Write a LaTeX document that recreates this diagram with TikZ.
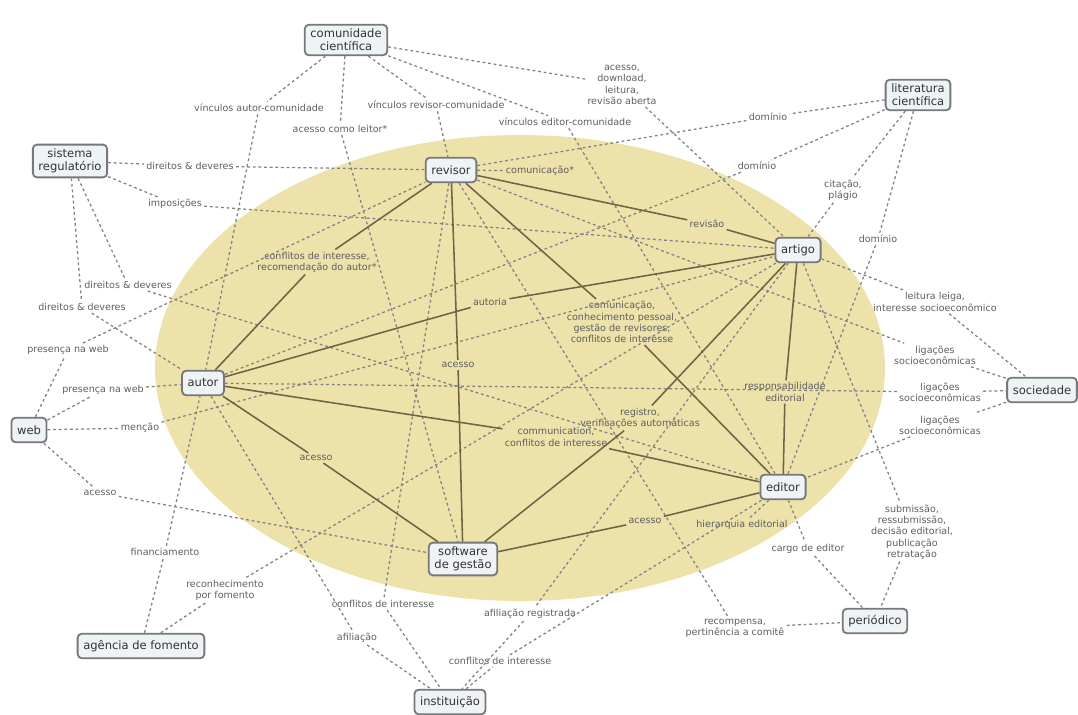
\documentclass[tikz,border=0pt]{standalone}
\usepackage{fontspec}
\setmainfont{DejaVu Sans}
\definecolor{oval}{RGB}{237,226,170}
\definecolor{boxfill}{RGB}{238,243,246}
\definecolor{boxline}{RGB}{118,120,122}
\definecolor{phrasegray}{RGB}{95,95,95}
\definecolor{tiecolor}{RGB}{110,100,70}
\definecolor{linkgray}{RGB}{130,130,130}
\begin{document}
\begin{tikzpicture}[x=0.025cm,y=-0.025cm,
    concept/.style={draw=boxline,line width=1.3pt,rounded corners=3pt,fill=boxfill,
      align=center,font=\fontsize{8.2}{9.4}\selectfont,text=black!80,
      inner xsep=4pt,inner ysep=3pt,minimum height=17.5pt},
    phrase/.style={align=center,font=\fontsize{6.8}{8}\selectfont,text=phrasegray,inner sep=1.5pt},
    rel/.style={draw=linkgray,line width=0.9pt,dash pattern=on 2pt off 2pt},
    core/.style={draw=tiecolor,line width=1.1pt}]
  \useasboundingbox (0,0) rectangle (1078,715);
  \fill[oval] (520,368) ellipse [x radius=365, y radius=233];

  \node[concept] (comunidade) at (346,40) {comunidade\\científica};
  \node[concept] (literatura) at (918,95) {literatura\\científica};
  \node[concept] (sistema) at (70,161) {sistema\\regulatório};
  \node[concept] (revisor) at (451,170) {revisor};
  \node[concept] (artigo) at (798,250) {artigo};
  \node[concept] (autor) at (203,383) {autor};
  \node[concept] (sociedade) at (1042,390) {sociedade};
  \node[concept] (web) at (29,430) {web};
  \node[concept] (editor) at (783,487) {editor};
  \node[concept] (software) at (463,559) {software\\de gestão};
  \node[concept] (periodico) at (875,621) {periódico};
  \node[concept] (agencia) at (141,646) {agência de fomento};
  \node[concept] (instituicao) at (450,702) {instituição};

  \node[phrase] (vinAutor) at (259,108) {vínculos autor-comunidade};
  \node[phrase] (leitor) at (340,129) {acesso como leitor*};
  \node[phrase] (vinRevisor) at (436,105) {vínculos revisor-comunidade};
  \node[phrase] (vinEditor) at (565,122) {vínculos editor-comunidade};
  \node[phrase] (download) at (622,85) {acesso,\\download,\\leitura,\\revisão aberta};
  \node[phrase] (dom1) at (768,117) {domínio};
  \node[phrase] (dom2) at (757,166) {domínio};
  \node[phrase] (citacao) at (843,190) {citação,\\plágio};
  \node[phrase] (dom3) at (878,239) {domínio};
  \node[phrase] (dir1) at (190,166) {direitos \& deveres};
  \node[phrase] (impos) at (175,204) {imposições};
  \node[phrase] (dir2) at (128,285) {direitos \& deveres};
  \node[phrase] (dir3) at (82,307) {direitos \& deveres};
  \node[phrase] (comStar) at (540,171) {comunicação*};
  \node[phrase] (revisao) at (707,224) {revisão};
  \node[phrase] (recom) at (317,262) {conflitos de interesse,\\recomendação do autor*};
  \node[phrase] (autoria) at (490,302) {autoria};
  \node[phrase] (comRev) at (622,322) {comunicação,\\conhecimento pessoal,\\gestão de revisores,\\conflitos de interesse};
  \node[phrase] (pres1) at (68,350) {presença na web};
  \node[phrase] (pres2) at (103,390) {presença na web};
  \node[phrase] (mencao) at (140,428) {menção};
  \node[phrase] (acRev) at (458,365) {acesso};
  \node[phrase] (resp) at (785,392) {responsabilidade\\editorial};
  \node[phrase] (leiga) at (935,302) {leitura leiga,\\interesse socioeconômico};
  \node[phrase] (lig1) at (935,355) {ligações\\socioeconômicas};
  \node[phrase] (lig2) at (940,392) {ligações\\socioeconômicas};
  \node[phrase] (lig3) at (940,425) {ligações\\socioeconômicas};
  \node[phrase] (registro) at (640,418) {registro,\\verificações automáticas};
  \node[phrase] (comAut) at (556,437) {communication,\\conflitos de interesse};
  \node[phrase] (acAut) at (316,458) {acesso};
  \node[phrase] (acWeb) at (100,493) {acesso};
  \node[phrase] (submissao) at (912,532) {submissão,\\ressubmissão,\\decisão editorial,\\publicação\\retratação};
  \node[phrase] (acEd) at (645,521) {acesso};
  \node[phrase] (hier) at (742,525) {hierarquia editorial};
  \node[phrase] (cargo) at (808,549) {cargo de editor};
  \node[phrase] (financ) at (165,552) {financiamento};
  \node[phrase] (reconh) at (225,590) {reconhecimento\\por fomento};
  \node[phrase] (recompensa) at (735,628) {recompensa,\\pertinência a comitê};
  \node[phrase] (conf1) at (383,604) {conflitos de interesse};
  \node[phrase] (afil) at (357,638) {afiliação};
  \node[phrase] (afilReg) at (530,614) {afiliação registrada};
  \node[phrase] (conf2) at (500,661) {conflitos de interesse};

  \draw[rel] (comunidade) -- (vinAutor) -- (autor);
  \draw[rel] (comunidade) -- (leitor) -- (software);
  \draw[rel] (comunidade) -- (vinRevisor) -- (revisor);
  \draw[rel] (comunidade) -- (vinEditor) -- (editor);
  \draw[rel] (comunidade) -- (download) -- (artigo);
  \draw[rel] (literatura) -- (dom1) -- (revisor);
  \draw[rel] (literatura) -- (dom2) -- (autor);
  \draw[rel] (literatura) -- (citacao) -- (artigo);
  \draw[rel] (literatura) -- (dom3) -- (editor);
  \draw[rel] (sistema) -- (dir1) -- (revisor);
  \draw[rel] (sistema) -- (impos) -- (artigo);
  \draw[rel] (sistema) -- (dir2) -- (editor);
  \draw[rel] (sistema) -- (dir3) -- (autor);
  \draw[rel] (web) -- (pres1) -- (revisor);
  \draw[rel] (web) -- (pres2) -- (autor);
  \draw[rel] (web) -- (mencao) -- (artigo);
  \draw[rel] (web) -- (acWeb) -- (software);
  \draw[rel] (revisor) -- (comStar);
  \draw[rel] (revisor) -- (conf1) -- (instituicao);
  \draw[rel] (revisor) -- (lig1) -- (sociedade);
  \draw[rel] (revisor) -- (recompensa) -- (periodico);
  \draw[rel] (autor) -- (lig2) -- (sociedade);
  \draw[rel] (autor) -- (afil) -- (instituicao);
  \draw[rel] (agencia) -- (financ) -- (autor);
  \draw[rel] (agencia) -- (reconh) -- (artigo);
  \draw[rel] (artigo) -- (leiga) -- (sociedade);
  \draw[rel] (artigo) -- (submissao) -- (periodico);
  \draw[rel] (artigo) -- (afilReg) -- (instituicao);
  \draw[rel] (instituicao) -- (conf2) -- (editor);
  \draw[rel] (editor) -- (cargo) -- (periodico);
  \draw[rel] (editor) -- (hier);
  \draw[rel] (sociedade) -- (lig3) -- (editor);

  \draw[core] (revisor) -- (revisao) -- (artigo);
  \draw[core] (revisor) -- (recom) -- (autor);
  \draw[core] (revisor) -- (acRev) -- (software);
  \draw[core] (revisor) -- (comRev) -- (editor);
  \draw[core] (autor) -- (autoria) -- (artigo);
  \draw[core] (autor) -- (comAut) -- (editor);
  \draw[core] (autor) -- (acAut) -- (software);
  \draw[core] (artigo) -- (resp) -- (editor);
  \draw[core] (artigo) -- (registro) -- (software);
  \draw[core] (software) -- (acEd) -- (editor);
\end{tikzpicture}
\end{document}
